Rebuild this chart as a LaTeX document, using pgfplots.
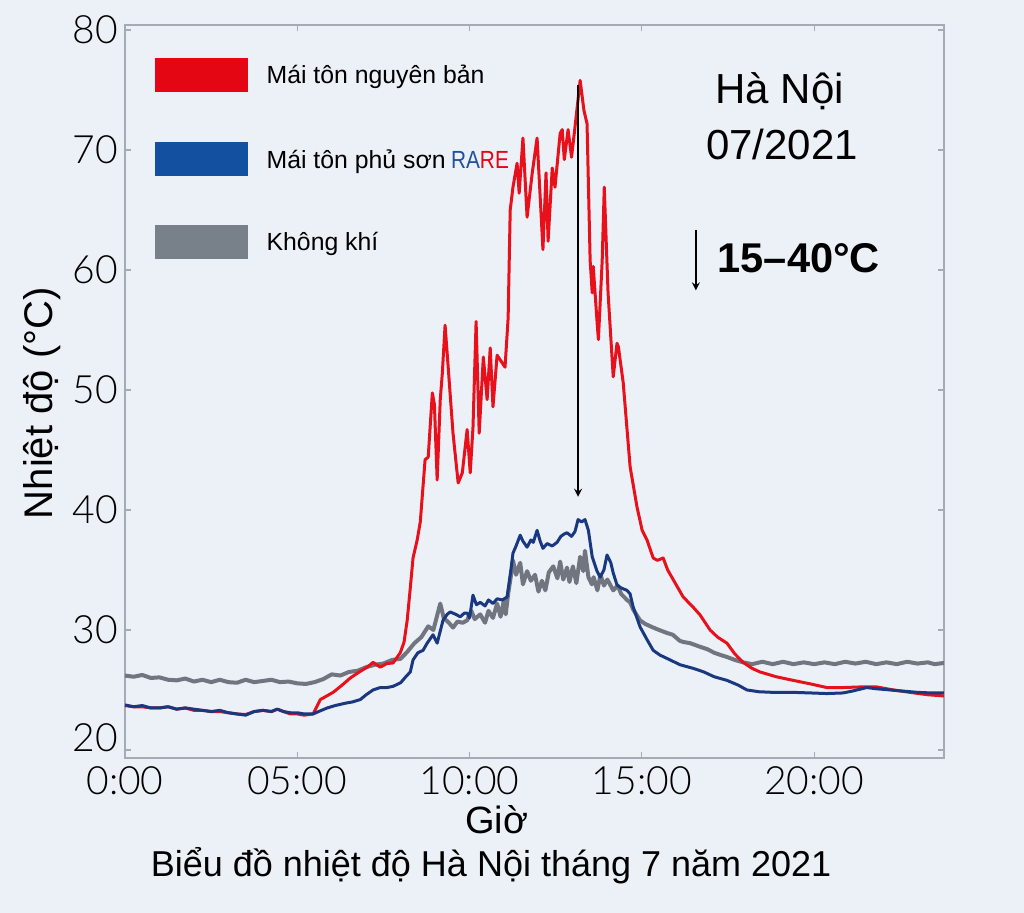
\documentclass[border=0pt]{standalone}
\usepackage{pgfplots}
\pgfplotsset{compat=1.18}
\usepackage{graphicx}
\usepackage{fontspec}
\setmainfont{Liberation Sans}
\newfontfamily\tickfont{Lato Light}
\definecolor{bgc}{RGB}{236,241,248}
\definecolor{axgray}{RGB}{165,170,180}
\definecolor{lred}{RGB}{232,16,26}
\definecolor{lblue}{RGB}{26,56,128}
\definecolor{lgray}{RGB}{112,117,127}
\definecolor{pred}{RGB}{228,6,19}
\definecolor{pblue}{RGB}{20,80,160}
\definecolor{pgray}{RGB}{120,128,138}
\definecolor{rablue}{RGB}{32,80,160}

\pgfplotstableread{
h v
0 26.2
0.25 26.1
0.5 26.25
0.75 26.0
1.0 26.05
1.25 25.85
1.5 25.8
1.75 25.95
2.0 25.7
2.25 25.85
2.5 25.65
2.75 25.85
3.0 25.65
3.25 25.6
3.5 25.85
3.75 25.65
4.0 25.75
4.25 25.85
4.5 25.65
4.75 25.7
5.0 25.55
5.25 25.5
5.5 25.65
5.75 25.9
6.0 26.3
6.25 26.2
6.5 26.5
6.75 26.6
7.0 26.9
7.25 27.1
7.5 27.2
7.75 27.5
8.0 27.6
8.2 28.2
8.4 28.9
8.6 29.4
8.8 30.3
8.95 30.0
9.15 32.2
9.25 31.0
9.4 30.6
9.52 30.2
9.65 30.7
9.8 30.6
9.93 30.8
10.05 31.6
10.15 30.9
10.31 31.3
10.45 30.6
10.55 31.6
10.68 31.0
10.8 32.2
10.9 31.1
11.0 32.5
11.05 31.3
11.12 33.0
11.2 34.5
11.26 35.8
11.35 34.6
11.47 35.6
11.55 33.8
11.67 34.9
11.78 34.1
11.9 34.6
12.0 33.2
12.1 34.1
12.2 33.3
12.3 34.8
12.43 35.3
12.55 34.3
12.63 35.7
12.72 34.2
12.83 35.2
12.9 34.0
13.0 35.3
13.1 33.9
13.21 36.1
13.3 34.9
13.35 36.6
13.45 34.4
13.55 33.8
13.6 34.4
13.71 33.3
13.8 34.6
13.9 33.7
14.0 34.2
14.17 33.3
14.3 33.7
14.4 33.0
14.57 32.5
14.66 32.3
14.75 31.7
14.95 30.8
15.1 30.5
15.33 30.2
15.5 30.0
15.73 29.75
15.9 29.6
16.1 29.1
16.2 29.0
16.4 28.9
16.69 28.6
16.9 28.4
17.1 28.1
17.3 27.9
17.47 27.75
17.7 27.5
17.94 27.3
18.2 27.15
18.5 27.35
18.8 27.15
19.1 27.35
19.4 27.15
19.7 27.3
20.0 27.15
20.3 27.3
20.6 27.15
20.9 27.35
21.2 27.2
21.5 27.35
21.8 27.15
22.1 27.3
22.4 27.15
22.7 27.35
23.0 27.2
23.3 27.3
23.5 27.15
23.77 27.25
}\airtable

\pgfplotstableread{
h v
0 23.75
0.25 23.6
0.5 23.7
0.75 23.5
1.0 23.5
1.25 23.6
1.5 23.4
1.75 23.5
2.0 23.4
2.25 23.3
2.5 23.2
2.75 23.3
3.0 23.1
3.25 23.0
3.5 22.9
3.75 23.2
4.0 23.3
4.25 23.2
4.42 23.4
4.6 23.2
4.8 23.1
5.0 23.1
5.2 23.0
5.46 23.0
5.7 23.3
5.87 23.5
6.1 23.7
6.4 23.9
6.6 24.0
6.83 24.2
7.0 24.6
7.2 25.0
7.41 25.2
7.6 25.2
7.78 25.3
8.0 25.6
8.15 26.1
8.28 26.5
8.36 27.5
8.5 28.1
8.65 28.3
8.77 28.9
8.94 29.6
9.06 28.9
9.23 30.8
9.35 31.3
9.44 31.5
9.6 31.3
9.73 31.1
9.85 31.4
9.93 31.4
10.0 31.0
10.1 32.9
10.2 32.1
10.31 32.3
10.45 32.0
10.55 32.5
10.68 32.2
10.8 32.6
10.95 32.5
11.09 32.75
11.2 35.0
11.26 36.4
11.35 37.0
11.47 37.9
11.55 37.4
11.67 36.9
11.78 37.5
11.85 37.3
11.96 38.3
12.05 37.4
12.13 36.8
12.25 37.2
12.4 37.0
12.54 37.3
12.65 37.8
12.75 38.0
12.83 38.1
12.96 37.8
13.06 38.2
13.15 39.2
13.25 39.0
13.35 39.2
13.45 38.3
13.56 36.1
13.7 34.9
13.79 34.4
13.9 35.0
13.99 36.25
14.1 35.6
14.17 34.75
14.28 33.75
14.4 33.5
14.57 33.3
14.66 33.0
14.75 31.9
14.95 30.25
15.15 29.2
15.33 28.3
15.53 27.9
15.75 27.6
16.11 27.1
16.49 26.8
16.8 26.5
17.1 26.1
17.47 25.8
17.8 25.4
18.05 25.0
18.4 24.85
18.8 24.8
19.39 24.8
19.9 24.75
20.37 24.7
20.84 24.75
21.1 24.9
21.53 25.2
21.8 25.1
22.2 25.0
22.6 24.9
23.0 24.8
23.4 24.75
23.77 24.75
}\bluetable

\pgfplotstableread{
h v
0 23.7
0.25 23.6
0.5 23.6
0.75 23.5
1.0 23.5
1.25 23.6
1.5 23.4
1.75 23.5
2.0 23.3
2.25 23.3
2.5 23.2
2.75 23.2
3.0 23.1
3.25 23.0
3.5 22.95
3.75 23.2
4.0 23.3
4.25 23.2
4.42 23.4
4.6 23.2
4.8 23.0
5.0 23.0
5.2 22.9
5.46 23.0
5.67 24.2
6.04 24.8
6.3 25.4
6.54 26.0
6.8 26.5
7.03 26.9
7.2 27.3
7.41 26.9
7.6 27.2
7.78 27.25
7.99 28.1
8.1 29.0
8.19 30.8
8.28 33.5
8.36 36.0
8.48 37.5
8.57 39.0
8.71 44.2
8.8 44.4
8.92 49.75
8.98 48.8
9.06 42.5
9.15 49.2
9.21 51.4
9.29 55.4
9.38 51.9
9.52 46.4
9.67 42.25
9.79 43.1
9.93 46.7
10.02 43.1
10.1 46.9
10.19 55.7
10.28 46.4
10.4 52.75
10.51 49.2
10.6 53.5
10.68 48.6
10.8 52.9
10.95 52.25
11.03 51.9
11.12 56.0
11.18 65.0
11.26 66.9
11.38 68.9
11.44 66.4
11.55 71.0
11.67 64.4
11.82 68.1
11.96 71.0
12.13 61.7
12.22 68.1
12.28 62.4
12.4 68.5
12.48 66.9
12.63 71.4
12.69 71.7
12.75 69.2
12.86 71.7
12.96 69.4
13.06 71.9
13.21 75.8
13.32 73.3
13.41 72.2
13.5 60.8
13.56 58.1
13.59 60.3
13.71 55.3
13.74 54.2
13.85 60.8
13.91 66.9
14.02 58.1
14.17 51.1
14.28 53.9
14.32 53.6
14.46 50.6
14.66 43.6
14.86 40.25
15.01 38.3
15.15 37.5
15.33 36.0
15.45 35.8
15.62 36.0
15.75 35.0
15.91 34.2
16.2 32.75
16.49 31.9
16.69 31.25
16.98 30.0
17.2 29.4
17.47 28.9
17.7 28.0
17.94 27.3
18.2 26.8
18.43 26.5
18.9 26.1
19.39 25.8
19.9 25.5
20.37 25.2
20.84 25.2
21.33 25.25
21.82 25.25
22.3 25.0
22.78 24.8
23.3 24.6
23.77 24.5
}\redtable

\begin{document}
\begin{tikzpicture}
\path[use as bounding box, fill=bgc] (0,0) rectangle (512pt,456.5pt);
\begin{axis}[
  at={(62.5pt,77.5pt)}, anchor=south west,
  scale only axis, width=409.5pt, height=366.5pt,
  xmin=0, xmax=23.77, ymin=19.33, ymax=80.42,
  axis line style={axgray, line width=0.6pt},
  tick style={axgray, line width=0.6pt},
  major tick length=3pt,
  xtick={0,5,10,15,20},
  xticklabels={0:00,05:00,10:00,15:00,20:00},
  ytick={20,30,40,50,60,70,80},
  yticklabels={\raisebox{12pt}{20},30,40,50,60,70,80},
  ticklabel style={font=\tickfont\fontsize{19.5}{22}\selectfont, text=black},
  xticklabel style={yshift=-1pt},
  xlabel={Giờ},
  xlabel style={font=\fontsize{19}{22}\selectfont, at={(axis description cs:0.454,-0.0846)}, anchor=center},
  ylabel={Nhiệt độ (°C)},
  ylabel style={font=\fontsize{20}{23}\selectfont, at={(axis description cs:-0.1013,0.484)}, anchor=center},
  title={Biểu đồ nhiệt độ Hà Nội tháng 7 năm 2021},
  title style={font=\fontsize{18}{21}\selectfont, at={(axis description cs:0.447,-0.164)}, anchor=center},
  axis background/.style={fill=bgc},
]
\addplot[lgray, line width=2pt, line join=round] table[x=h,y=v] {\airtable};
\addplot[lred, line width=1.5pt, line join=round] table[x=h,y=v] {\redtable};
\addplot[lblue, line width=1.5pt, line join=round] table[x=h,y=v] {\bluetable};

% legend
\fill[pred] (axis cs:0.88,74.83) rectangle (axis cs:3.58,77.67);
\fill[pblue] (axis cs:0.88,67.83) rectangle (axis cs:3.58,70.67);
\fill[pgray] (axis cs:0.88,60.92) rectangle (axis cs:3.58,63.75);
\node[anchor=base west, inner sep=0, font=\fontsize{12.4}{15}\selectfont] at (axis cs:4.1,75.58) {Mái tôn nguyên bản};
\node[anchor=base west, inner sep=0, font=\fontsize{12.4}{15}\selectfont] at (axis cs:4.1,68.5) {Mái tôn phủ sơn\hspace{0.22em}\scalebox{0.84}[1]{\textcolor{rablue}{RA}\textcolor{pred}{RE}}};
\node[anchor=base west, inner sep=0, font=\fontsize{12.4}{15}\selectfont] at (axis cs:4.1,61.6) {Không khí};

% annotations
\node[anchor=base, inner sep=0, font=\fontsize{21}{24}\selectfont] at (axis cs:19.0,73.9) {Hà Nội};
\node[anchor=base, inner sep=0, font=\fontsize{21}{24}\selectfont] at (axis cs:19.07,69.25) {07/2021};
\node[anchor=base west, inner sep=0, font=\bfseries\fontsize{20.8}{24}\selectfont] at (axis cs:17.19,59.75) {15–40°C};
\draw[-stealth, line width=0.8pt] (axis cs:16.57,63.3) -- (axis cs:16.57,58.3);
\draw[-stealth, line width=0.8pt] (axis cs:13.15,75.4) -- (axis cs:13.15,41.1);
\end{axis}
\end{tikzpicture}
\end{document}
